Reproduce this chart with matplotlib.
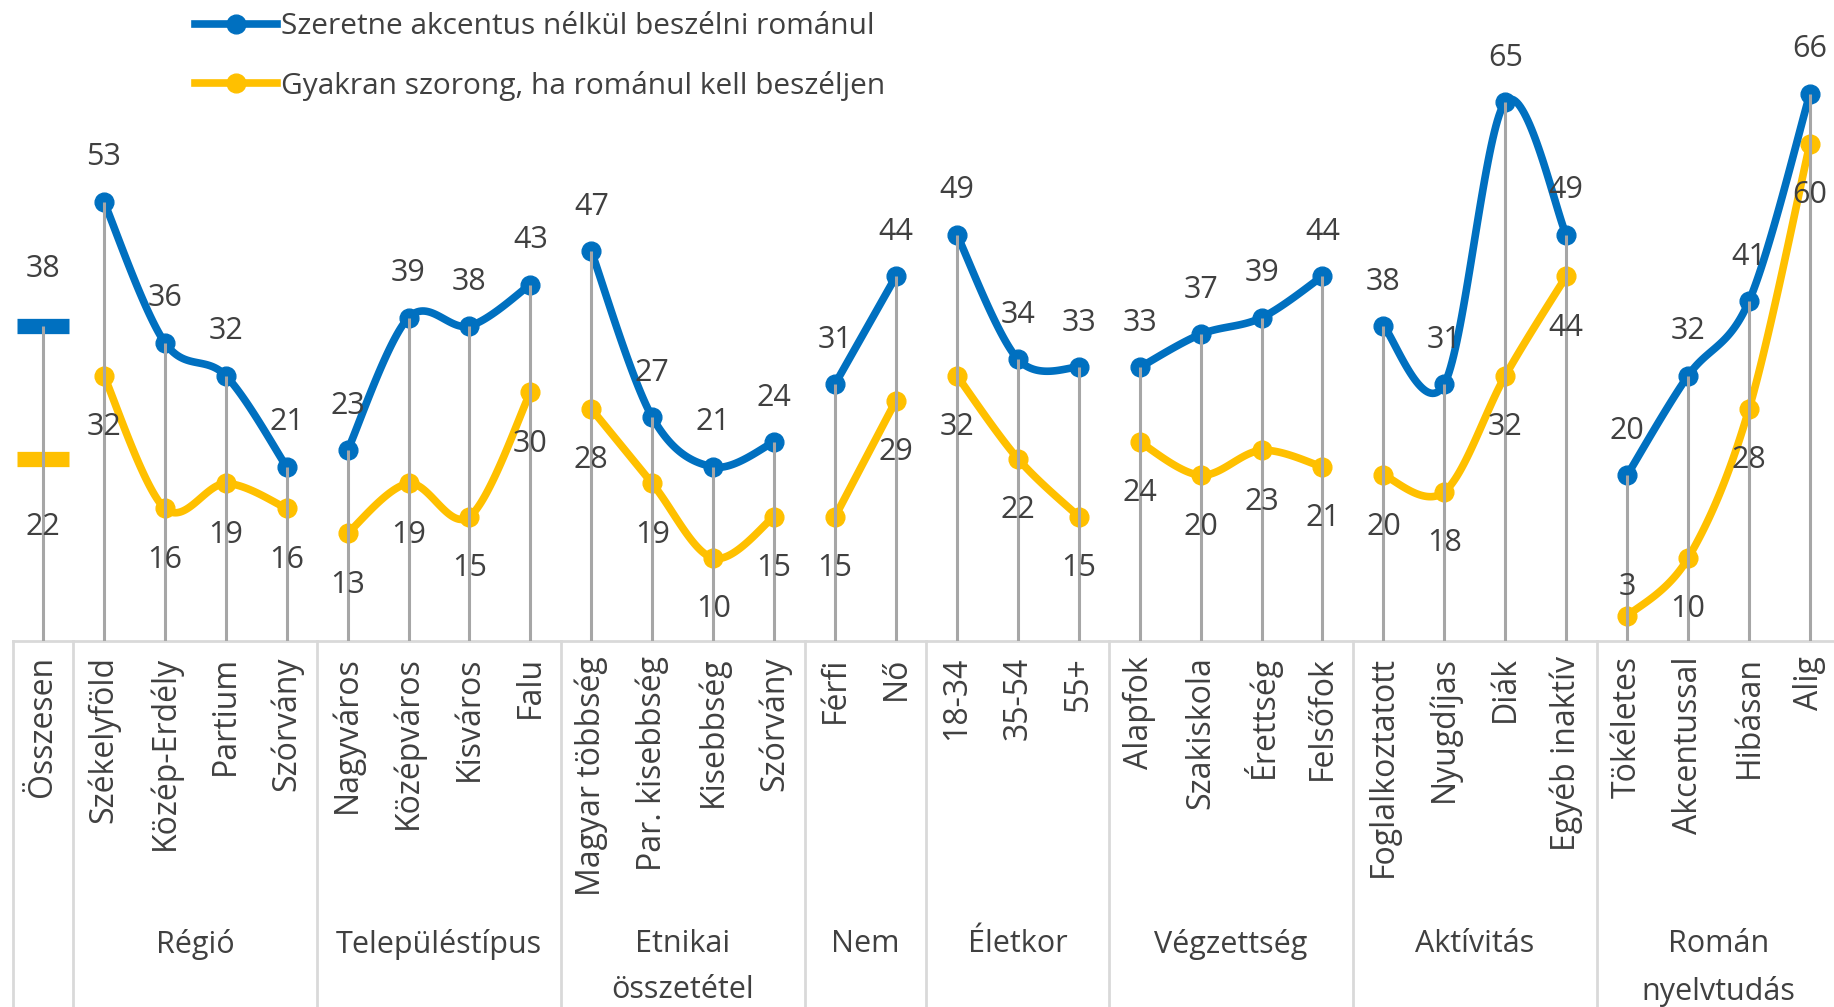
import numpy as np
import matplotlib
matplotlib.use('Agg')
import matplotlib.pyplot as plt
from matplotlib.lines import Line2D
import matplotlib.transforms as mtransforms

plt.rcParams['font.family'] = ['Open Sans', 'DejaVu Sans']

# data
total_label = 'Összesen'
total_accent = 38
total_anxiety = 22

groups = ['Régió', 'Településtípus', 'Etnikai\nösszetétel', 'Nem', 'Életkor',
          'Végzettség', 'Aktívitás', 'Román\nnyelvtudás']
categories = [
    ['Székelyföld', 'Közép-Erdély', 'Partium', 'Szórvány'],
    ['Nagyváros', 'Középváros', 'Kisváros', 'Falu'],
    ['Magyar többség', 'Par. kisebbség', 'Kisebbség', 'Szórvány'],
    ['Férfi', 'Nő'],
    ['18-34', '35-54', '55+'],
    ['Alapfok', 'Szakiskola', 'Érettség', 'Felsőfok'],
    ['Foglalkoztatott', 'Nyugdíjas', 'Diák', 'Egyéb inaktív'],
    ['Tökéletes', 'Akcentussal', 'Hibásan', 'Alig'],
]
accent = [
    [53, 36, 32, 21],
    [23, 39, 38, 43],
    [47, 27, 21, 24],
    [31, 44],
    [49, 34, 33],
    [33, 37, 39, 44],
    [38, 31, 65, 49],
    [20, 32, 41, 66],
]
anxiety = [
    [32, 16, 19, 16],
    [13, 19, 15, 30],
    [28, 19, 10, 15],
    [15, 29],
    [32, 22, 15],
    [24, 20, 23, 21],
    [20, 18, 32, 44],
    [3, 10, 28, 60],
]
series_names = ['Szeretne akcentus nélkül beszélni románul',
                'Gyakran szorong, ha románul kell beszéljen']

BLUE = '#0070C0'
YELLOW = '#FFC000'
GRAY = '#A6A6A6'
LIGHT = '#D9D9D9'
TXT = '#404040'


def smooth(xs, ys, n=40):
    # excel-like bezier smoothing (catmull-rom control points)
    pts = np.column_stack([xs, ys]).astype(float)
    if len(pts) < 3:
        return pts[:, 0], pts[:, 1]
    out = []
    t = np.linspace(0, 1, n)[:, None]
    for i in range(len(pts) - 1):
        p0 = pts[i - 1] if i > 0 else pts[i]
        p1 = pts[i]
        p2 = pts[i + 1]
        p3 = pts[i + 2] if i + 2 < len(pts) else pts[i + 1]
        c1 = p1 + (p2 - p0) / 6
        c2 = p2 - (p3 - p1) / 6
        seg = ((1 - t) ** 3) * p1 + 3 * ((1 - t) ** 2) * t * c1 + 3 * (1 - t) * t ** 2 * c2 + t ** 3 * p2
        out.append(seg if i == 0 else seg[1:])
    out = np.vstack(out)
    return out[:, 0], out[:, 1]


W, H = 1834, 1007
fig = plt.figure(figsize=(W / 100, H / 100), dpi=100)
x0_px, step_px, base_px, unit_px = 12.5, 60.93, 641, 8.29
ax = fig.add_axes([x0_px / W, (H - base_px) / H, 30 * step_px / W, base_px / H])
ax.set_xlim(-0.5, 29.5)
ax.set_ylim(0, base_px / unit_px)

all_labels = [total_label]
all_acc = [total_accent]
all_anx = [total_anxiety]
bounds = [-0.5, 0.5]
pos = 1
group_centers = []
for cats, a, b in zip(categories, accent, anxiety):
    xs = np.arange(pos, pos + len(cats))
    sx, sy = smooth(xs, a)
    ax.plot(sx, sy, color=BLUE, lw=5.5, solid_capstyle='round', zorder=3)
    ax.plot(xs, a, 'o', color=BLUE, ms=13.5, zorder=3)
    sx, sy = smooth(xs, b)
    ax.plot(sx, sy, color=YELLOW, lw=5.5, solid_capstyle='round', zorder=2)
    ax.plot(xs, b, 'o', color=YELLOW, ms=13.5, zorder=2)
    group_centers.append(xs.mean())
    all_labels += cats
    all_acc += a
    all_anx += b
    pos += len(cats)
    bounds.append(pos - 0.5)

# total as dash markers
ax.plot([0], [total_accent], marker='_', ms=38, mew=11, color=BLUE, zorder=3)
ax.plot([0], [total_anxiety], marker='_', ms=38, mew=11, color=YELLOW, zorder=2)

xall = np.arange(len(all_labels))
tops = np.maximum(all_acc, all_anx)
ax.vlines(xall, 0, tops, color=GRAY, lw=2.2, zorder=4)

for i, (a, b) in enumerate(zip(all_acc, all_anx)):
    up, down = (41, -49) if i == 0 else (32, -37)
    if b < 5:
        down = 21  # no room under the point, label goes above it
    ax.annotate(str(a), (i, a), xytext=(0, up), textcoords='offset points',
                ha='center', va='center', fontsize=22, color=TXT, zorder=5)
    ax.annotate(str(b), (i, b), xytext=(0, down), textcoords='offset points',
                ha='center', va='center', fontsize=22, color=TXT, zorder=5)

ax.set_xticks(xall)
ax.set_xticklabels(all_labels, rotation=90, va='top', ha='center', fontsize=23, color=TXT)
ax.tick_params(axis='x', length=0, pad=11)
ax.set_yticks([])
for s in ['top', 'left', 'right']:
    ax.spines[s].set_visible(False)
ax.spines['bottom'].set_color(LIGHT)
ax.spines['bottom'].set_linewidth(2)

trans = mtransforms.blended_transform_factory(ax.transData, ax.transAxes)
for b in bounds:
    ax.plot([b, b], [0, -1], color=LIGHT, lw=2, transform=trans, clip_on=False)
for c, g in zip(group_centers, groups):
    ax.text(c, -0.45, g, transform=trans, ha='center', va='top', fontsize=22,
            color=TXT, linespacing=1.68)

handles = [Line2D([], [], color=BLUE, lw=5.5, marker='o', ms=13.5),
           Line2D([], [], color=YELLOW, lw=5.5, marker='o', ms=13.5)]
fig.legend(handles, series_names, loc='upper left', bbox_to_anchor=(195 / W, 1 - 12 / H),
           frameon=False, fontsize=21.5, handlelength=2.74, handletextpad=0.13,
           labelspacing=1.0, borderpad=0, borderaxespad=0, labelcolor=TXT)

fig.savefig('out.png', dpi=100)
